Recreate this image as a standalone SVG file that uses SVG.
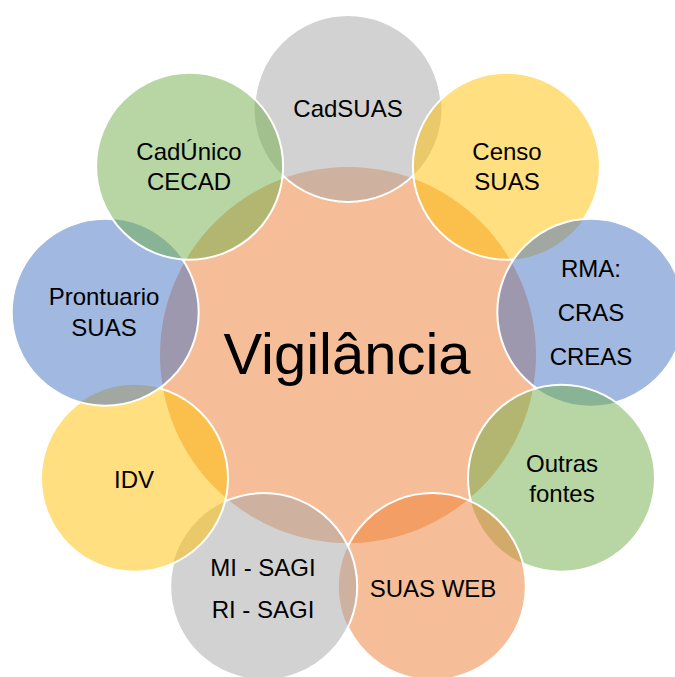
<svg xmlns="http://www.w3.org/2000/svg" width="675" height="677" viewBox="0 0 675 677">
<style>
.lbl{font-family:"Liberation Sans",Arial,sans-serif;font-size:24px;fill:#000;text-anchor:middle}
.big{font-family:"Liberation Sans",Arial,sans-serif;font-size:58px;fill:#000;text-anchor:middle}
.f{fill-opacity:0.5;stroke:none}
.s{fill:none;stroke:#fff;stroke-width:2}
.gray{fill:#A5A5A5}.yel{fill:#FFC000}.blue{fill:#4472C4}.green{fill:#70AD47}.orange{fill:#ED7D31}
</style>
<defs>
<mask id="m0" maskUnits="userSpaceOnUse" x="0" y="0" width="675" height="677"><rect width="675" height="677" fill="#fff"/><circle cx="506.4" cy="166.2" r="93.5" fill="#000"/><circle cx="189.6" cy="166.2" r="93.5" fill="#000"/></mask>
<mask id="m1" maskUnits="userSpaceOnUse" x="0" y="0" width="675" height="677"><rect width="675" height="677" fill="#fff"/><circle cx="590.8" cy="312.2" r="93.5" fill="#000"/></mask>
<mask id="m2" maskUnits="userSpaceOnUse" x="0" y="0" width="675" height="677"><rect width="675" height="677" fill="#fff"/><circle cx="561.5" cy="478.3" r="93.5" fill="#000"/></mask>
<mask id="m3" maskUnits="userSpaceOnUse" x="0" y="0" width="675" height="677"><rect width="675" height="677" fill="#fff"/><circle cx="432.3" cy="586.6" r="93.5" fill="#000"/></mask>
<mask id="m4" maskUnits="userSpaceOnUse" x="0" y="0" width="675" height="677"><rect width="675" height="677" fill="#fff"/><circle cx="263.7" cy="586.6" r="93.5" fill="#000"/></mask>
<mask id="m5" maskUnits="userSpaceOnUse" x="0" y="0" width="675" height="677"><rect width="675" height="677" fill="#fff"/><circle cx="134.5" cy="478.3" r="93.5" fill="#000"/></mask>
<mask id="m6" maskUnits="userSpaceOnUse" x="0" y="0" width="675" height="677"><rect width="675" height="677" fill="#fff"/><circle cx="105.2" cy="312.2" r="93.5" fill="#000"/></mask>
<mask id="m7" maskUnits="userSpaceOnUse" x="0" y="0" width="675" height="677"><rect width="675" height="677" fill="#fff"/><circle cx="189.6" cy="166.2" r="93.5" fill="#000"/></mask>
</defs>
<rect width="675" height="677" fill="#fff"/>
<g id="connectors"/>
<g id="vigilancia">
<circle class="f orange" cx="348" cy="355" r="188"/>
</g>
<g id="cadsuas">
<circle class="f gray" cx="348" cy="108.5" r="93.5"/>
<circle class="s" cx="348" cy="108.5" r="93.5" mask="url(#m0)"/>
</g>
<g id="censo-suas">
<circle class="f yel" cx="506.4" cy="166.2" r="93.5"/>
<circle class="s" cx="506.4" cy="166.2" r="93.5" mask="url(#m1)"/>
</g>
<g id="rma">
<circle class="f blue" cx="590.8" cy="312.2" r="93.5"/>
<circle class="s" cx="590.8" cy="312.2" r="93.5" mask="url(#m2)"/>
</g>
<g id="outras-fontes">
<circle class="f green" cx="561.5" cy="478.3" r="93.5"/>
<circle class="s" cx="561.5" cy="478.3" r="93.5" mask="url(#m3)"/>
</g>
<g id="suas-web">
<circle class="f orange" cx="432.3" cy="586.6" r="93.5"/>
<circle class="s" cx="432.3" cy="586.6" r="93.5" mask="url(#m4)"/>
</g>
<g id="mi-sagi">
<circle class="f gray" cx="263.7" cy="586.6" r="93.5"/>
<circle class="s" cx="263.7" cy="586.6" r="93.5" mask="url(#m5)"/>
</g>
<g id="idv">
<circle class="f yel" cx="134.5" cy="478.3" r="93.5"/>
<circle class="s" cx="134.5" cy="478.3" r="93.5" mask="url(#m6)"/>
</g>
<g id="prontuario">
<circle class="f blue" cx="105.2" cy="312.2" r="93.5"/>
<circle class="s" cx="105.2" cy="312.2" r="93.5" mask="url(#m7)"/>
</g>
<g id="cadunico">
<circle class="f green" cx="189.6" cy="166.2" r="93.5"/>
<circle class="s" cx="189.6" cy="166.2" r="93.5"/>
</g>
<g id="labels">
<text class="big" x="347" y="374">Vigilância</text>
<text class="lbl" x="348" y="117">CadSUAS</text>
<text class="lbl" x="507" y="160">Censo</text>
<text class="lbl" x="507" y="190">SUAS</text>
<text class="lbl" x="591" y="277">RMA:</text>
<text class="lbl" x="591" y="321">CRAS</text>
<text class="lbl" x="591" y="365">CREAS</text>
<text class="lbl" x="562" y="472">Outras</text>
<text class="lbl" x="562" y="502">fontes</text>
<text class="lbl" x="433" y="597">SUAS WEB</text>
<text class="lbl" x="263" y="576">MI - SAGI</text>
<text class="lbl" x="263" y="618">RI - SAGI</text>
<text class="lbl" x="134" y="488">IDV</text>
<text class="lbl" x="104" y="305">Prontuario</text>
<text class="lbl" x="104" y="336">SUAS</text>
<text class="lbl" x="189" y="160">CadÚnico</text>
<text class="lbl" x="189" y="190">CECAD</text>
</g>
</svg>
